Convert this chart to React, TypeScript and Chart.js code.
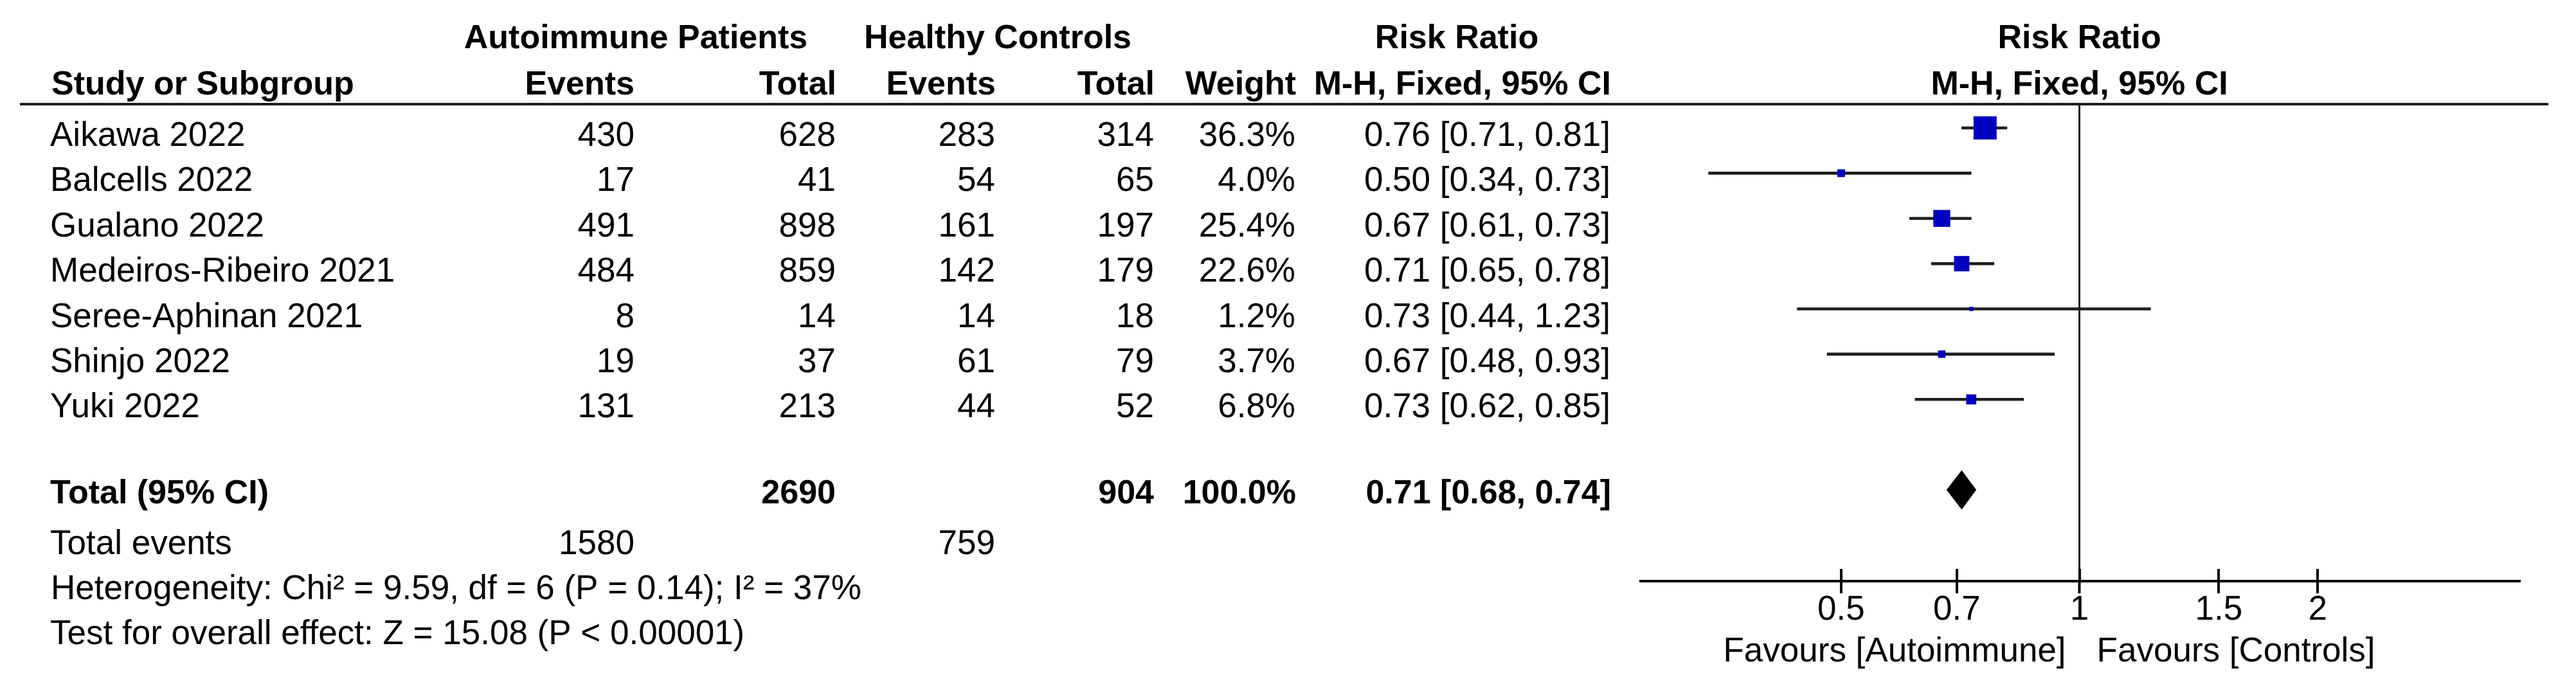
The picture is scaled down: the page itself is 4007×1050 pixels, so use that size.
import React, { useEffect, useRef } from "react";
import { Chart, registerables } from "chart.js";

Chart.register(...registerables);

// ---------- data ----------
const studies = [
  "Aikawa 2022",
  "Balcells 2022",
  "Gualano 2022",
  "Medeiros-Ribeiro 2021",
  "Seree-Aphinan 2021",
  "Shinjo 2022",
  "Yuki 2022",
];
const autoEvents = [430, 17, 491, 484, 8, 19, 131];
const autoTotal = [628, 41, 898, 859, 14, 37, 213];
const ctrlEvents = [283, 54, 161, 142, 14, 61, 44];
const ctrlTotal = [314, 65, 197, 179, 18, 79, 52];
const weights = [36.3, 4.0, 25.4, 22.6, 1.2, 3.7, 6.8];
const riskRatio = [0.76, 0.5, 0.67, 0.71, 0.73, 0.67, 0.73];
const ciLow = [0.71, 0.34, 0.61, 0.65, 0.44, 0.48, 0.62];
const ciHigh = [0.81, 0.73, 0.73, 0.78, 1.23, 0.93, 0.85];

const pooled = [0.71, 0.68, 0.74]; // estimate, lower, upper
const totalAuto = 2690;
const totalCtrl = 904;
const totalWeight = 100.0;
const totalEventsAuto = 1580;
const totalEventsCtrl = 759;
const heterogeneityText = "Heterogeneity: Chi\u00B2 = 9.59, df = 6 (P = 0.14); I\u00B2 = 37%";
const overallEffectText = "Test for overall effect: Z = 15.08 (P < 0.00001)";

const tickValues = [0.5, 0.7, 1, 1.5, 2];
const tickLabels = ["0.5", "0.7", "1", "1.5", "2"];
const favoursLeft = "Favours [Autoimmune]";
const favoursRight = "Favours [Controls]";

// ---------- style / layout constants ----------
const W = 4007;
const H = 1050;
const FONT = '"Liberation Sans", Arial, Helvetica, sans-serif';
const REG = `53px ${FONT}`;
const BOLD = `bold 52px ${FONT}`;
const SQUARE_COLOR = "#0000C0";
const LINE_COLOR = "#1e1e1e";
const TOTAL_ROW = studies.length + 1; // one blank row before the total
const DIAMOND_HALF = 0.426; // half height in row units

const fmt2 = (v: number) => v.toFixed(2);
const ciText = (e: number, l: number, h: number) => `${fmt2(e)} [${fmt2(l)}, ${fmt2(h)}]`;
const markerSide = (w: number) => (w < 10 ? 6 * Math.sqrt(w) : 4 + 0.88 * w);

export default function App() {
  const ref = useRef<HTMLCanvasElement | null>(null);

  useEffect(() => {
    const canvas = ref.current;
    if (!canvas) return;

    const tablePlugin = {
      id: "forestTable",
      afterDraw(chart: any) {
        const ctx: CanvasRenderingContext2D = chart.ctx;
        const xs = chart.scales.x;
        const ys = chart.scales.y;
        const area = chart.chartArea;
        const x1 = xs.getPixelForValue(1);

        ctx.save();
        ctx.fillStyle = "#000";
        ctx.textBaseline = "alphabetic";
        const t = (s: string, x: number, y: number, align: CanvasTextAlign, bold = false) => {
          ctx.font = bold ? BOLD : REG;
          ctx.textAlign = align;
          ctx.fillText(s, x, y);
        };

        // upward halves of the axis tick marks
        ctx.fillStyle = "#000";
        for (const tk of xs.ticks) {
          const px = xs.getPixelForValue(tk.value);
          ctx.fillRect(Math.round(px) - 2, area.bottom - 19, 4, 19);
        }

        // header rule
        ctx.fillStyle = LINE_COLOR;
        ctx.fillRect(31, area.top - 2, 3933, 4);
        ctx.fillStyle = "#000";

        // header row 1
        const h1 = 75;
        t("Autoimmune Patients", 989, h1, "center", true);
        t("Healthy Controls", 1552, h1, "center", true);
        t("Risk Ratio", 2266, h1, "center", true);
        t("Risk Ratio", x1, h1, "center", true);
        // header row 2
        const h2 = 147;
        t("Study or Subgroup", 80, h2, "left", true);
        t("Events", 987, h2, "right", true);
        t("Total", 1301, h2, "right", true);
        t("Events", 1549, h2, "right", true);
        t("Total", 1796, h2, "right", true);
        t("Weight", 2016, h2, "right", true);
        t("M-H, Fixed, 95% CI", 2506, h2, "right", true);
        t("M-H, Fixed, 95% CI", x1, h2, "center", true);

        // study rows
        studies.forEach((s, i) => {
          const y = ys.getPixelForValue(i) + 28;
          t(s, 78, y, "left");
          t(String(autoEvents[i]), 987, y, "right");
          t(String(autoTotal[i]), 1300, y, "right");
          t(String(ctrlEvents[i]), 1548, y, "right");
          t(String(ctrlTotal[i]), 1795, y, "right");
          t(`${weights[i].toFixed(1)}%`, 2015, y, "right");
          t(ciText(riskRatio[i], ciLow[i], ciHigh[i]), 2505, y, "right");
        });

        // total row
        const ty = ys.getPixelForValue(TOTAL_ROW) + 21;
        t("Total (95% CI)", 78, ty, "left", true);
        t(String(totalAuto), 1300, ty, "right", true);
        t(String(totalCtrl), 1795, ty, "right", true);
        t(`${totalWeight.toFixed(1)}%`, 2016, ty, "right", true);
        t(ciText(pooled[0], pooled[1], pooled[2]), 2506, ty, "right", true);

        // footers
        t("Total events", 78, 862, "left");
        t(String(totalEventsAuto), 987, 862, "right");
        t(String(totalEventsCtrl), 1548, 862, "right");
        t(heterogeneityText, 79, 932, "left");
        t(overallEffectText, 78, 1002, "left");

        // favours labels
        t(favoursLeft, x1 - 21, 1029, "right");
        t(favoursRight, x1 + 27, 1029, "left");

        ctx.restore();
      },
    };

    const chart = new Chart(canvas, {
      type: "scatter",
      data: {
        datasets: [
          {
            type: "line",
            label: "pooled",
            data: [
              { x: pooled[1], y: TOTAL_ROW },
              { x: pooled[0], y: TOTAL_ROW - DIAMOND_HALF },
              { x: pooled[2], y: TOTAL_ROW },
              { x: pooled[0], y: TOTAL_ROW + DIAMOND_HALF },
              { x: pooled[1], y: TOTAL_ROW },
            ],
            borderColor: "#000",
            backgroundColor: "#000",
            borderWidth: 1,
            fill: "shape",
            pointRadius: 0,
            tension: 0,
            order: 0,
          } as any,
          {
            type: "scatter",
            label: "studies",
            data: riskRatio.map((v, i) => ({ x: v, y: i })),
            pointStyle: "rect",
            pointRadius: (c: any) => markerSide(weights[c.dataIndex] ?? 1) / Math.SQRT2,
            pointHoverRadius: (c: any) => markerSide(weights[c.dataIndex] ?? 1) / Math.SQRT2,
            backgroundColor: SQUARE_COLOR,
            borderWidth: 0,
            pointBorderWidth: 0,
            order: 1,
          } as any,
          {
            type: "bar",
            label: "ci",
            indexAxis: "y",
            data: studies.map((_, i) => ({ x: [ciLow[i], ciHigh[i]], y: i })),
            backgroundColor: LINE_COLOR,
            borderWidth: 0,
            barThickness: 4,
            order: 2,
          } as any,
        ],
      },
      options: {
        responsive: false,
        animation: false,
        devicePixelRatio: 1,
        events: [],
        layout: { padding: { left: 2552, right: 86, top: 162, bottom: 46 } },
        plugins: {
          legend: { display: false },
          tooltip: { enabled: false },
        },
        scales: {
          x: {
            type: "logarithmic",
            min: 0.279,
            max: 3.61,
            offset: false,
            beginAtZero: false,
            afterBuildTicks: (s: any) => {
              s.ticks = tickValues.map((v) => ({ value: v }));
            },
            afterFit: (s: any) => {
              s.height = 100;
            },
            ticks: {
              autoSkip: false,
              maxRotation: 0,
              minRotation: 0,
              padding: -5,
              color: "#000",
              font: { family: FONT, size: 53 },
              callback: (_v: any, i: number) => tickLabels[i],
            },
            grid: {
              drawOnChartArea: true,
              drawTicks: true,
              tickLength: 19,
              tickColor: "#000",
              tickWidth: 4,
              color: (c: any) => (c.tick && c.tick.value === 1 ? LINE_COLOR : "rgba(0,0,0,0)"),
              lineWidth: (c: any) => (c.tick && c.tick.value === 1 ? 3 : 0),
            },
            border: { display: true, color: "#000", width: 4 },
          },
          y: {
            type: "linear",
            reverse: true,
            min: -0.526,
            max: 10.017,
            offset: false,
            display: false,
          },
        },
      } as any,
      plugins: [tablePlugin],
    });

    return () => chart.destroy();
  }, []);

  return (
    <div style={{ position: "absolute", left: 0, top: 0, width: W, height: H, background: "#fff" }}>
      <canvas ref={ref} width={W} height={H} style={{ width: W, height: H, display: "block" }} />
    </div>
  );
}
